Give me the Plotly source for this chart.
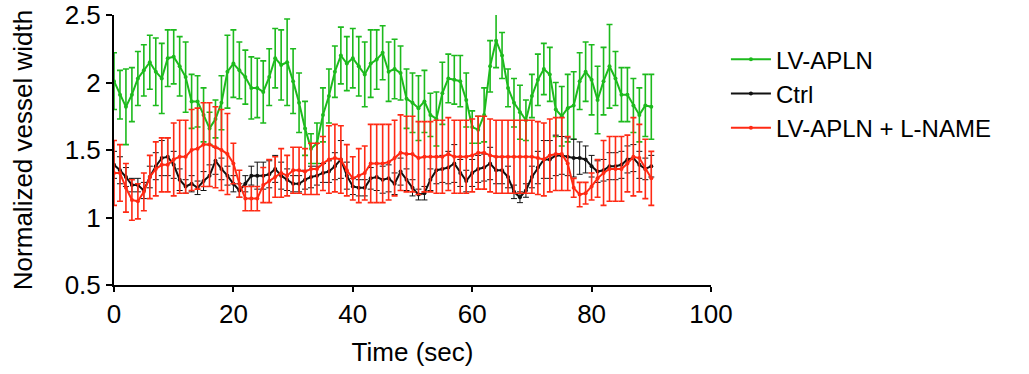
import plotly.graph_objects as go

time_sec = list(range(0, 91))

lv_apln = [2.01, 1.91, 1.82, 1.91, 2.03, 2.09, 2.15, 2.08, 2.03, 2.18,
           2.19, 2.12, 2.04, 1.86, 1.86, 1.76, 1.66, 1.73, 1.85, 2.08,
           2.14, 2.09, 2.04, 1.96, 1.96, 1.93, 2.04, 2.18, 2.13, 2.15,
           2.01, 1.85, 1.66, 1.51, 1.55, 1.76, 1.90, 2.08, 2.20, 2.14,
           2.18, 2.12, 2.06, 2.14, 2.17, 2.22, 2.08, 2.10, 2.07, 1.88,
           1.85, 1.81, 1.86, 1.76, 1.73, 1.92, 2.03, 2.02, 2.01, 1.87,
           1.67, 1.65, 1.76, 2.12, 2.31, 2.20, 1.96, 1.85, 1.78, 1.72,
           1.90, 2.02, 2.10, 2.06, 1.80, 1.75, 1.81, 1.83, 2.01, 2.08,
           2.02, 1.87, 2.01, 2.12, 2.03, 1.91, 1.91, 1.83, 1.76, 1.83, 1.82]
lv_apln_err = [0.21, 0.18, 0.28, 0.20, 0.20, 0.19, 0.20, 0.25, 0.26, 0.21,
               0.20, 0.22, 0.26, 0.20, 0.19, 0.20, 0.12, 0.14, 0.20, 0.27,
               0.25, 0.21, 0.20, 0.23, 0.22, 0.23, 0.21, 0.22, 0.26, 0.32,
               0.24, 0.22, 0.20, 0.11, 0.15, 0.20, 0.20, 0.19, 0.21, 0.20,
               0.22, 0.22, 0.24, 0.25, 0.22, 0.20, 0.22, 0.22, 0.20, 0.22,
               0.22, 0.24, 0.23, 0.16, 0.20, 0.23, 0.18, 0.18, 0.19, 0.20,
               0.12, 0.10, 0.20, 0.19, 0.20, 0.17, 0.14, 0.18, 0.20, 0.15,
               0.16, 0.19, 0.19, 0.20, 0.20, 0.22, 0.25, 0.25, 0.21, 0.22,
               0.26, 0.25, 0.25, 0.31, 0.20, 0.20, 0.20, 0.20, 0.20, 0.23, 0.24]

ctrl = [1.39, 1.35, 1.30, 1.24, 1.24, 1.20, 1.30, 1.38, 1.44, 1.45,
        1.39, 1.28, 1.23, 1.25, 1.22, 1.27, 1.31, 1.42, 1.36, 1.31,
        1.25, 1.20, 1.25, 1.31, 1.31, 1.31, 1.32, 1.36, 1.31, 1.28,
        1.25, 1.25, 1.28, 1.30, 1.31, 1.33, 1.34, 1.38, 1.43, 1.31,
        1.23, 1.22, 1.22, 1.29, 1.30, 1.28, 1.29, 1.25, 1.34, 1.28,
        1.22, 1.17, 1.18, 1.28, 1.35, 1.36, 1.37, 1.40, 1.33, 1.27,
        1.33, 1.36, 1.37, 1.40, 1.35, 1.35, 1.30, 1.19, 1.15, 1.20,
        1.30, 1.37, 1.43, 1.43, 1.46, 1.46, 1.45, 1.44, 1.44, 1.43,
        1.38, 1.34, 1.35, 1.38, 1.38, 1.39, 1.43, 1.44, 1.39, 1.36, 1.38]
ctrl_err = [0.10, 0.10, 0.07, 0.05, 0.05, 0.06, 0.08, 0.10, 0.13, 0.14,
            0.10, 0.08, 0.05, 0.06, 0.05, 0.07, 0.08, 0.10, 0.08, 0.07,
            0.06, 0.05, 0.06, 0.07, 0.10, 0.10, 0.10, 0.10, 0.10, 0.08,
            0.06, 0.06, 0.07, 0.08, 0.07, 0.07, 0.08, 0.10, 0.14, 0.10,
            0.06, 0.06, 0.06, 0.08, 0.10, 0.10, 0.10, 0.08, 0.10, 0.08,
            0.06, 0.04, 0.05, 0.08, 0.10, 0.10, 0.12, 0.14, 0.10, 0.08,
            0.10, 0.10, 0.10, 0.12, 0.10, 0.10, 0.08, 0.05, 0.04, 0.05,
            0.08, 0.12, 0.14, 0.14, 0.15, 0.14, 0.14, 0.14, 0.12, 0.10,
            0.08, 0.08, 0.08, 0.10, 0.10, 0.10, 0.10, 0.10, 0.10, 0.08, 0.08]

lv_apln_lname = [1.33, 1.33, 1.22, 1.13, 1.12, 1.19, 1.30, 1.36, 1.39, 1.39,
                 1.43, 1.45, 1.45, 1.50, 1.51, 1.54, 1.54, 1.52, 1.50, 1.47,
                 1.40, 1.25, 1.14, 1.14, 1.14, 1.24, 1.27, 1.30, 1.33, 1.31,
                 1.35, 1.35, 1.34, 1.36, 1.36, 1.40, 1.43, 1.44, 1.43, 1.35,
                 1.29, 1.31, 1.33, 1.40, 1.40, 1.40, 1.41, 1.44, 1.48, 1.47,
                 1.47, 1.44, 1.45, 1.45, 1.45, 1.45, 1.47, 1.45, 1.45, 1.45,
                 1.46, 1.48, 1.48, 1.46, 1.45, 1.45, 1.45, 1.45, 1.45, 1.45,
                 1.45, 1.44, 1.43, 1.46, 1.47, 1.47, 1.40, 1.22, 1.17, 1.18,
                 1.23, 1.29, 1.33, 1.36, 1.36, 1.36, 1.40, 1.45, 1.44, 1.36, 1.29]
lv_apln_lname_err = [0.24, 0.21, 0.18, 0.15, 0.13, 0.14, 0.16, 0.20, 0.20, 0.20,
                     0.27, 0.27, 0.27, 0.30, 0.30, 0.31, 0.31, 0.30, 0.30, 0.30,
                     0.15, 0.10, 0.09, 0.09, 0.09, 0.13, 0.16, 0.15, 0.18, 0.15,
                     0.17, 0.17, 0.17, 0.19, 0.19, 0.20, 0.25, 0.25, 0.25, 0.19,
                     0.16, 0.20, 0.20, 0.29, 0.29, 0.29, 0.28, 0.28, 0.28, 0.28,
                     0.28, 0.27, 0.26, 0.26, 0.27, 0.27, 0.27, 0.27, 0.27, 0.27,
                     0.27, 0.27, 0.27, 0.27, 0.27, 0.27, 0.27, 0.27, 0.27, 0.27,
                     0.27, 0.27, 0.27, 0.27, 0.27, 0.27, 0.20, 0.07, 0.09, 0.08,
                     0.10, 0.14, 0.24, 0.24, 0.24, 0.24, 0.21, 0.29, 0.25, 0.22, 0.20]

series = [
    ("LV-APLN", lv_apln, lv_apln_err, "#1DBA1D", 1.6),
    ("Ctrl", ctrl, ctrl_err, "#111111", 1.0),
    ("LV-APLN + L-NAME", lv_apln_lname, lv_apln_lname_err, "#FF2A14", 1.6),
]

FONT = "Liberation Sans, Arial, Helvetica, sans-serif"

fig = go.Figure()
for name, vals, errs, color, ethick in series:
    fig.add_trace(go.Scatter(
        x=time_sec, y=vals, name=name, mode="lines+markers",
        line=dict(color=color, width=2),
        marker=dict(color=color, size=4),
        error_y=dict(type="data", array=errs, visible=True,
                     color=color, thickness=ethick, width=3),
    ))

fig.update_layout(
    width=1029, height=374,
    margin=dict(l=114, r=318, t=15, b=89),
    paper_bgcolor="white", plot_bgcolor="white",
    font=dict(family=FONT, size=25, color="black"),
    showlegend=True,
    legend=dict(x=1.025, y=0.918, xanchor="left", yanchor="top",
                font=dict(family=FONT, size=24, color="black"),
                tracegroupgap=0, itemwidth=40, bgcolor="rgba(0,0,0,0)"),
)
fig.update_xaxes(
    range=[0, 100], tickvals=[0, 20, 40, 60, 80, 100],
    showline=True, linecolor="black", linewidth=2,
    ticks="outside", ticklen=5, tickwidth=2, tickcolor="black",
    showgrid=False, zeroline=False, ticklabeloverflow="allow",
    automargin="bottom",
    title=dict(text="Time (sec)", font=dict(family=FONT, size=26)),
    tickfont=dict(family=FONT, size=26),
)
fig.update_yaxes(
    range=[0.5, 2.5], tickvals=[0.5, 1, 1.5, 2, 2.5],
    ticktext=["0.5", "1", "1.5", "2", "2.5"],
    showline=True, linecolor="black", linewidth=2,
    ticks="outside", ticklen=6, tickwidth=2, tickcolor="black",
    showgrid=False, zeroline=False, ticklabeloverflow="allow",
    automargin="left",
    title=dict(text="Normalized vessel width", font=dict(family=FONT, size=26), standoff=25),
    tickfont=dict(family=FONT, size=26),
)

fig.write_html("out.html", config={"displayModeBar": False},
               post_script="document.body.style.margin='0';")
